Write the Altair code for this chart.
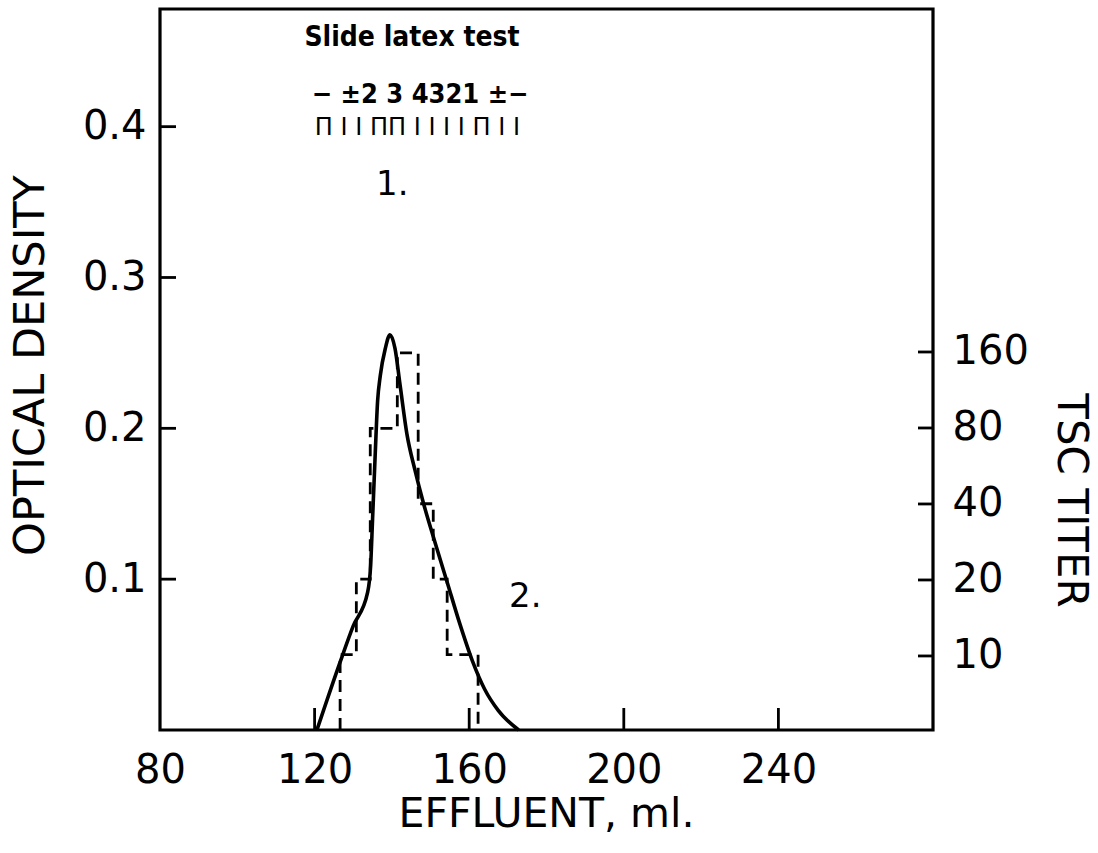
import altair as alt
import pandas as pd

# ---- data ----
curve_ml = [120.6, 126.6, 130.0, 133.7, 134.5, 135.0, 135.7, 136.3, 137.0, 138.3, 139.5,
            140.8, 142.1, 143.9, 146.0, 148.1, 151.2, 154.3, 157.5, 160.8, 164.0, 167.5, 172.8]
curve_od = [0.0, 0.045, 0.069, 0.091, 0.109, 0.140, 0.184, 0.218, 0.235, 0.253, 0.262,
            0.253, 0.229, 0.196, 0.172, 0.151, 0.124, 0.098, 0.071, 0.046, 0.027, 0.013, 0.0]

step_ml = [126.6, 126.6, 130.8, 134.4, 141.4, 146.8, 150.7, 154.3, 162.3]
step_od = [0.0, 0.05, 0.10, 0.20, 0.25, 0.15, 0.10, 0.05, 0.0]

x_ticks = [80, 120, 160, 200, 240]
od_ticks = [0.1, 0.2, 0.3, 0.4]
titer_ticks = [10, 20, 40, 80, 160]

x_domain = [80, 280]
od_domain = [0, 0.478]
titer_domain = [5.09, 3654]

header_labels = ["Slide latex test", "\u2212 \u00b12 3 4321 \u00b1\u2212"]
header_ml = [145.2, 147.3]
header_od = [0.459, 0.421]
header_size = [28, 27]

bars_label = ["\u03a0 I I \u03a0\u03a0 I I I I  \u03a0  I I"]
bars_ml = [146.6]
bars_od = [0.3988]

peak_labels = ["1.", "2."]
peak_ml = [140.1, 174.5]
peak_od = [0.3615, 0.0879]

FONT = "DejaVu Sans"
NARROW = "Liberation Sans Narrow, DejaVu Sans Condensed, Roboto Condensed, sans-serif"

xs = alt.Scale(domain=x_domain, nice=False, zero=False)
ys = alt.Scale(domain=od_domain, nice=False, zero=False)
ts = alt.Scale(type="log", base=2, domain=titer_domain, nice=False)

x_axis = alt.Axis(values=x_ticks, title="EFFLUENT, ml.", ticks=False, domain=False, grid=False,
                  labelFlush=False, labelFontSize=40, labelFont=FONT, labelPadding=20,
                  labelColor="black", titleFont=FONT, titleFontSize=41, titleFontWeight="normal",
                  titleColor="black", titleX=386, titleY=84, titleBaseline="middle")
y_axis = alt.Axis(values=od_ticks, format=".1f", title="OPTICAL DENSITY", ticks=False, domain=False,
                  grid=False, labelFlush=False, labelFontSize=40, labelFont=FONT, labelPadding=14,
                  labelColor="black", titleFont=FONT, titleFontSize=43, titleFontWeight="normal",
                  titleColor="black", titleX=-130, titleY=356, titleBaseline="middle", titleAngle=270)
t_axis = alt.Axis(values=titer_ticks, format="d", orient="right", title="TSC TITER", ticks=False,
                  domain=False, grid=False, labelFlush=False, labelFontSize=40, labelFont=FONT,
                  labelPadding=19, labelColor="black", titleFont=FONT, titleFontSize=42,
                  titleFontWeight="normal", titleColor="black", titleX=137, titleY=491,
                  titleBaseline="middle", titleAngle=90)

X = alt.X("ml:Q", scale=xs, axis=x_axis)
Y = alt.Y("od:Q", scale=ys, axis=y_axis)

curve = alt.Chart(pd.DataFrame({"ml": curve_ml, "od": curve_od})).mark_line(
    interpolate="monotone", color="black", strokeWidth=3.6
).encode(x=X, y=Y)

steps = alt.Chart(pd.DataFrame({"ml": step_ml, "od": step_od})).mark_line(
    interpolate="step-after", color="black", strokeWidth=2.8, strokeDash=[12, 7]
).encode(x=X, y=Y)

left_ticks = alt.Chart(pd.DataFrame({"ml": [x_domain[0]] * len(od_ticks), "od": od_ticks})).mark_tick(
    orient="horizontal", size=32, thickness=2.8, color="black", opacity=1, clip=True
).encode(x=X, y=Y)

bottom_ticks = alt.Chart(pd.DataFrame({"ml": x_ticks[1:], "od": [od_domain[0]] * (len(x_ticks) - 1)})).mark_tick(
    orient="vertical", size=44, thickness=2.8, color="black", opacity=1, clip=True
).encode(x=X, y=Y)

header = alt.Chart(pd.DataFrame({"ml": header_ml, "od": header_od, "label": header_labels,
                                 "fs": header_size})).mark_text(
    font=NARROW, fontWeight="bold", color="black", align="center", baseline="middle"
).encode(x=X, y=Y, text="label:N", size=alt.Size("fs:Q", scale=None, legend=None))

bars = alt.Chart(pd.DataFrame({"ml": bars_ml, "od": bars_od, "label": bars_label})).mark_text(
    font=FONT, fontSize=24, color="black", align="center", baseline="middle"
).encode(x=X, y=Y, text="label:N")

peaks = alt.Chart(pd.DataFrame({"ml": peak_ml, "od": peak_od, "label": peak_labels})).mark_text(
    font=FONT, fontSize=34, color="black", align="center", baseline="middle"
).encode(x=X, y=Y, text="label:N")

od_group = alt.layer(curve, steps, left_ticks, bottom_ticks, header, bars, peaks)

right_ticks = alt.Chart(pd.DataFrame({"ml": [x_domain[1]] * len(titer_ticks), "titer": titer_ticks})).mark_tick(
    orient="horizontal", size=30, thickness=2.8, color="black", opacity=1, clip=True
).encode(x=X, y=alt.Y("titer:Q", scale=ts, axis=t_axis))

chart = alt.layer(od_group, right_ticks).resolve_scale(y="independent").properties(
    width=773, height=721,
    autosize=alt.AutoSizeParams(type="none"),
    padding={"left": 160, "top": 9, "right": 165, "bottom": 123},
    background="white",
).configure_view(stroke="black", strokeWidth=3.2)

chart.save("out.html", embed_options={"renderer": "svg", "actions": False})
